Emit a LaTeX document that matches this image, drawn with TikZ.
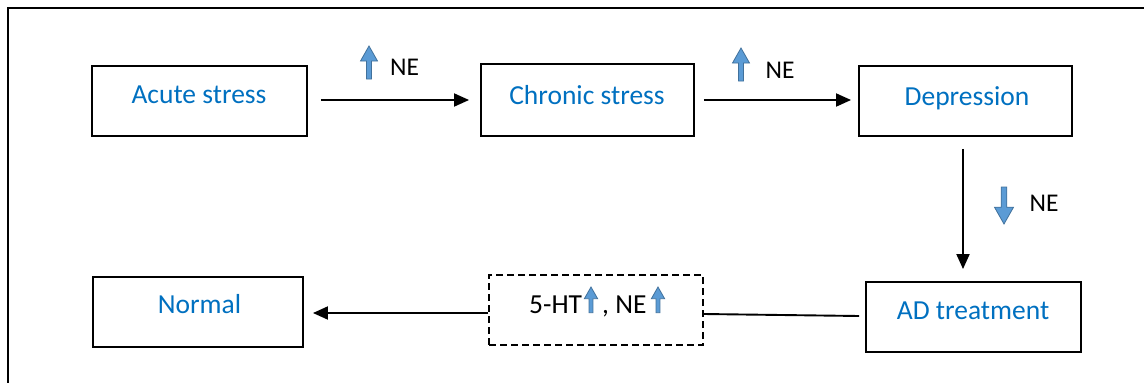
\documentclass[tikz,border=0pt]{standalone}
\usepackage{fontspec}
\setmainfont{Carlito}
\usetikzlibrary{arrows.meta}
\definecolor{boxtext}{HTML}{0070C0}
\definecolor{arrowfill}{HTML}{5B9BD5}
\definecolor{arrowedge}{HTML}{41719C}

\tikzset{
  stagebox/.style={draw=black, line width=1.9pt, inner sep=0pt},
  dashbox/.style={draw=black, line width=1.6pt, dash pattern=on 7pt off 4pt, inner sep=0pt},
  stagetext/.style={text=boxtext, font=\fontsize{27.5pt}{33pt}\selectfont, inner sep=0pt, anchor=base},
  plaintext/.style={text=black, font=\fontsize{27.5pt}{33pt}\selectfont, inner sep=0pt, anchor=base west},
  netext/.style={text=black, font=\fontsize{25.5pt}{30pt}\selectfont, inner sep=0pt, anchor=base},
  flow/.style={line width=1.9pt, -{Triangle[length=15pt,width=13pt]}},
  link/.style={line width=1.9pt},
  frame/.style={line width=2pt},
  % block arrow: tip at the origin, shaft running along +y
  levelarrow/.pic={
    \filldraw[fill=arrowfill, draw=arrowedge, line width=0.8pt]
      (0,0) -- (8.5,15) -- (2.5,15) -- (2.5,33) -- (-2.5,33) -- (-2.5,15) -- (-8.5,15) -- cycle;
  }
}

\begin{document}
\begin{tikzpicture}[x=1pt, y=-1pt]
\useasboundingbox (0,0) rectangle (1144,383);

% outer frame (top and left edges)
\draw[frame] (8,383) -- (8,8) -- (1144,8);

% stage boxes
\node[stagebox, minimum width=215pt, minimum height=70pt] (acute) at (199.5,101) {};
\node[stagebox, minimum width=213pt, minimum height=72pt] (chronic) at (587.5,100) {};
\node[stagebox, minimum width=213pt, minimum height=70pt] (depr) at (965.5,101) {};
\node[stagebox, minimum width=210pt, minimum height=70pt] (normal) at (198,312) {};
\node[dashbox, minimum width=214pt, minimum height=70pt] (mono) at (596,310) {};
\node[stagebox, minimum width=215pt, minimum height=70pt] (adt) at (973.5,317) {};

% box texts
\node[stagetext] (acuteT) at (199,103) {Acute stress};
\node[stagetext] (chronicT) at (587,104) {Chronic stress};
\node[stagetext] (deprT) at (967,105) {Depression};
\node[stagetext] (normalT) at (199.5,313) {Normal};
\node[stagetext] (adtT) at (973,319) {AD treatment};
\node[plaintext] (htT) at (529,313) {5-HT};
\node[plaintext] (neT) at (602,313) {, NE};

% NE labels
\node[netext] (ne1) at (404.5,75) {NE};
\node[netext] (ne2) at (780,78) {NE};
\node[netext] (ne3) at (1044,211) {NE};

% level arrows
\pic at (369,46) {levelarrow};
\pic at (741,48) {levelarrow};
\pic[rotate=180, scale=1.12] at (1004,224) {levelarrow};
\pic[scale=0.78] at (591,287) {levelarrow};
\pic[scale=0.78] at (658,287) {levelarrow};

% connectors
\draw[flow] ([xshift=13pt, yshift=1pt]acute.east) -- ([xshift=-11pt]chronic.west);
\draw[flow] ([xshift=9pt]chronic.east) -- ([xshift=-7pt, yshift=1pt]depr.west);
\draw[flow] ([xshift=-2.5pt, yshift=-12pt]depr.south) -- ([xshift=-10.5pt, yshift=12pt]adt.north);
\draw[link] ([xshift=-6pt, yshift=1pt]adt.west) -- ([yshift=-4pt]mono.east);
\draw[flow] ([yshift=-3pt]mono.west) -- ([xshift=9pt, yshift=-1pt]normal.east);
\end{tikzpicture}
\end{document}
